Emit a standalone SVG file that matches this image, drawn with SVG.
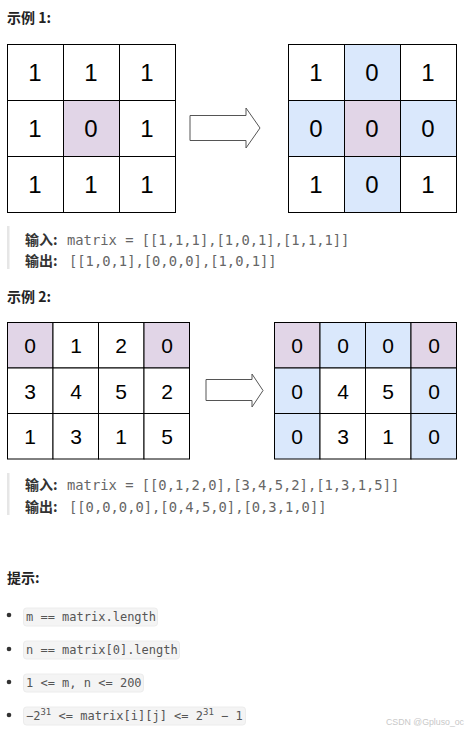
<svg xmlns="http://www.w3.org/2000/svg" width="470" height="733" viewBox="0 0 470 733">
<style>
.h{font-family:"Noto Sans CJK SC","Liberation Sans",sans-serif;font-weight:bold;font-size:14px;fill:#222}
.lbl{font-family:"Noto Sans CJK SC","Liberation Sans",sans-serif;font-weight:bold;font-size:14px;fill:#333}
.code{font-family:"DejaVu Sans Mono",monospace;font-size:13.8px;fill:#666}
.sc{font-family:"DejaVu Sans Mono",monospace;font-size:12px;fill:#555}
.cell{stroke:#000;stroke-width:1}
.w{fill:#fff}
.p{fill:#e1d5e7}
.b{fill:#dae8fc}
.d1{font-family:"Liberation Sans",Arial,sans-serif;font-size:24px;fill:#000;text-anchor:middle}
.d2{font-family:"Liberation Sans",Arial,sans-serif;font-size:21px;fill:#000;text-anchor:middle}
.bar{fill:#e6e6e6}
.box{fill:#f4f4f4;stroke:#ececec;stroke-width:1}
.arrow{fill:#fff;stroke:#555;stroke-width:1}
</style>
<rect width="470" height="733" fill="#fff"/>

<text class="h" x="7" y="23">示例 1:</text>

<g id="grid1-left">
<rect class="cell w" x="7.5" y="44.5" width="56" height="56"/>
<rect class="cell w" x="63.5" y="44.5" width="56" height="56"/>
<rect class="cell w" x="119.5" y="44.5" width="56" height="56"/>
<rect class="cell w" x="7.5" y="100.5" width="56" height="56"/>
<rect class="cell p" x="63.5" y="100.5" width="56" height="56"/>
<rect class="cell w" x="119.5" y="100.5" width="56" height="56"/>
<rect class="cell w" x="7.5" y="156.5" width="56" height="56"/>
<rect class="cell w" x="63.5" y="156.5" width="56" height="56"/>
<rect class="cell w" x="119.5" y="156.5" width="56" height="56"/>
<text class="d1" x="35" y="81">1</text><text class="d1" x="91" y="81">1</text><text class="d1" x="147" y="81">1</text>
<text class="d1" x="35" y="137">1</text><text class="d1" x="91" y="137">0</text><text class="d1" x="147" y="137">1</text>
<text class="d1" x="35" y="193">1</text><text class="d1" x="91" y="193">1</text><text class="d1" x="147" y="193">1</text>
</g>

<g id="arrow1">
<path class="arrow" d="M190,115.5 H246 V108 L260,128 L246,148 V140.5 H190 Z"/>
</g>

<g id="grid1-right">
<rect class="cell w" x="288.5" y="44.5" width="56" height="56"/>
<rect class="cell b" x="344.5" y="44.5" width="56" height="56"/>
<rect class="cell w" x="400.5" y="44.5" width="56" height="56"/>
<rect class="cell b" x="288.5" y="100.5" width="56" height="56"/>
<rect class="cell p" x="344.5" y="100.5" width="56" height="56"/>
<rect class="cell b" x="400.5" y="100.5" width="56" height="56"/>
<rect class="cell w" x="288.5" y="156.5" width="56" height="56"/>
<rect class="cell b" x="344.5" y="156.5" width="56" height="56"/>
<rect class="cell w" x="400.5" y="156.5" width="56" height="56"/>
<text class="d1" x="316" y="81">1</text><text class="d1" x="372" y="81">0</text><text class="d1" x="428" y="81">1</text>
<text class="d1" x="316" y="137">0</text><text class="d1" x="372" y="137">0</text><text class="d1" x="428" y="137">0</text>
<text class="d1" x="316" y="193">1</text><text class="d1" x="372" y="193">0</text><text class="d1" x="428" y="193">1</text>
</g>

<g id="example1-io">
<rect class="bar" x="7" y="226" width="2.5" height="43"/>
<text class="lbl" x="25" y="245">输入:</text>
<text class="code" x="67" y="245">matrix = [[1,1,1],[1,0,1],[1,1,1]]</text>
<text class="lbl" x="25" y="266">输出:</text>
<text class="code" x="69" y="266">[[1,0,1],[0,0,0],[1,0,1]]</text>
</g>

<text class="h" x="7" y="302">示例 2:</text>

<g id="grid2-left">
<rect class="cell p" x="7.5" y="322.5" width="45.5" height="45.5"/>
<rect class="cell w" x="53" y="322.5" width="45.5" height="45.5"/>
<rect class="cell w" x="98.5" y="322.5" width="45.5" height="45.5"/>
<rect class="cell p" x="144" y="322.5" width="45.5" height="45.5"/>
<rect class="cell w" x="7.5" y="368" width="45.5" height="45.5"/>
<rect class="cell w" x="53" y="368" width="45.5" height="45.5"/>
<rect class="cell w" x="98.5" y="368" width="45.5" height="45.5"/>
<rect class="cell w" x="144" y="368" width="45.5" height="45.5"/>
<rect class="cell w" x="7.5" y="413.5" width="45.5" height="45.5"/>
<rect class="cell w" x="53" y="413.5" width="45.5" height="45.5"/>
<rect class="cell w" x="98.5" y="413.5" width="45.5" height="45.5"/>
<rect class="cell w" x="144" y="413.5" width="45.5" height="45.5"/>
<text class="d2" x="30" y="353">0</text><text class="d2" x="76" y="353">1</text><text class="d2" x="121" y="353">2</text><text class="d2" x="167" y="353">0</text>
<text class="d2" x="30" y="398.5">3</text><text class="d2" x="76" y="398.5">4</text><text class="d2" x="121" y="398.5">5</text><text class="d2" x="167" y="398.5">2</text>
<text class="d2" x="30" y="444">1</text><text class="d2" x="76" y="444">3</text><text class="d2" x="121" y="444">1</text><text class="d2" x="167" y="444">5</text>
</g>

<g id="arrow2">
<path class="arrow" d="M206,379.5 H252 V374 L263,390.5 L252,407 V400.5 H206 Z"/>
</g>

<g id="grid2-right">
<rect class="cell p" x="274.5" y="322.5" width="45.5" height="45.5"/>
<rect class="cell b" x="320" y="322.5" width="45.5" height="45.5"/>
<rect class="cell b" x="365.5" y="322.5" width="45.5" height="45.5"/>
<rect class="cell p" x="411" y="322.5" width="45.5" height="45.5"/>
<rect class="cell b" x="274.5" y="368" width="45.5" height="45.5"/>
<rect class="cell w" x="320" y="368" width="45.5" height="45.5"/>
<rect class="cell w" x="365.5" y="368" width="45.5" height="45.5"/>
<rect class="cell b" x="411" y="368" width="45.5" height="45.5"/>
<rect class="cell b" x="274.5" y="413.5" width="45.5" height="45.5"/>
<rect class="cell w" x="320" y="413.5" width="45.5" height="45.5"/>
<rect class="cell w" x="365.5" y="413.5" width="45.5" height="45.5"/>
<rect class="cell b" x="411" y="413.5" width="45.5" height="45.5"/>
<text class="d2" x="297" y="353">0</text><text class="d2" x="343" y="353">0</text><text class="d2" x="388" y="353">0</text><text class="d2" x="434" y="353">0</text>
<text class="d2" x="297" y="398.5">0</text><text class="d2" x="343" y="398.5">4</text><text class="d2" x="388" y="398.5">5</text><text class="d2" x="434" y="398.5">0</text>
<text class="d2" x="297" y="444">0</text><text class="d2" x="343" y="444">3</text><text class="d2" x="388" y="444">1</text><text class="d2" x="434" y="444">0</text>
</g>

<g id="example2-io">
<rect class="bar" x="7" y="473" width="2.5" height="42"/>
<text class="lbl" x="25" y="490">输入:</text>
<text class="code" x="67" y="490">matrix = [[0,1,2,0],[3,4,5,2],[1,3,1,5]]</text>
<text class="lbl" x="25" y="512">输出:</text>
<text class="code" x="69" y="512">[[0,0,0,0],[0,4,5,0],[0,3,1,0]]</text>
</g>

<text class="h" x="7" y="583">提示:</text>

<g id="hints">
<circle cx="9" cy="615" r="2.3" fill="#333"/>
<rect class="box" x="23.5" y="608" width="134" height="18" rx="3"/>
<text class="sc" x="26" y="621">m == matrix.length</text>
<circle cx="9" cy="649" r="2.3" fill="#333"/>
<rect class="box" x="23.5" y="641" width="156" height="18" rx="3"/>
<text class="sc" x="26" y="654">n == matrix[0].length</text>
<circle cx="9" cy="682" r="2.3" fill="#333"/>
<rect class="box" x="23.5" y="674" width="120" height="18" rx="3"/>
<text class="sc" x="26" y="687">1 &lt;= m, n &lt;= 200</text>
<circle cx="9" cy="715" r="2.3" fill="#333"/>
<rect class="box" x="23.5" y="707" width="222" height="18" rx="3"/>
<text class="sc" x="26" y="720">−2<tspan font-size="9" dy="-5">31</tspan><tspan dy="5"> &lt;= matrix[i][j] &lt;= 2</tspan><tspan font-size="9" dy="-5">31</tspan><tspan dy="5"> − 1</tspan></text>
</g>

<text x="386" y="725" font-family="Liberation Sans,Arial,sans-serif" font-size="9.5" fill="#c8c8c8" textLength="78" lengthAdjust="spacingAndGlyphs">CSDN @Gpluso_oc</text>
</svg>
